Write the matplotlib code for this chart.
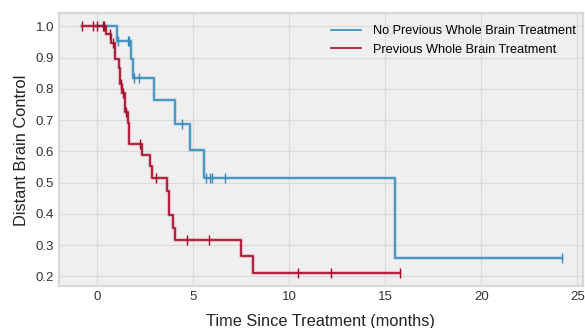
import numpy as np
import matplotlib
matplotlib.use("Agg")
import matplotlib.pyplot as plt

# Kaplan-Meier steps
no_wbt_times = [0.0, 1.02, 1.75, 1.85, 2.96, 4.07, 4.86, 5.58, 15.5, 24.2]
no_wbt_surv = [1.0, 0.952, 0.894, 0.834, 0.764, 0.688, 0.604, 0.516, 0.259, 0.259]
no_wbt_censor = [1.1, 1.6, 1.65, 1.92, 2.2, 4.4, 5.66, 5.87, 6.0, 6.68, 24.2]

wbt_times = [-0.8, 0.45, 0.71, 0.94, 1.14, 1.2, 1.3, 1.45, 1.63, 1.68, 2.37, 2.75,
             2.89, 3.65, 3.76, 3.96, 4.05, 7.52, 8.12, 15.76]
wbt_surv = [1.0, 0.974, 0.945, 0.894, 0.866, 0.815, 0.788, 0.725, 0.69, 0.624, 0.587,
            0.552, 0.513, 0.474, 0.397, 0.355, 0.317, 0.264, 0.212, 0.212]
wbt_censor = [-0.8, -0.19, 0.02, 0.3, 0.38, 0.68, 0.85, 1.25, 1.35, 1.53, 2.23, 3.06,
              4.71, 5.82, 10.47, 12.17, 15.76]

BLUE = "#348ABD"
RED = "#A60628"


def surv_at(times, surv, t):
    idx = np.searchsorted(times, t, side="right") - 1
    idx = np.clip(idx, 0, len(surv) - 1)
    return np.asarray(surv)[idx]


plt.rcParams["font.family"] = ["Liberation Sans", "DejaVu Sans"]

fig = plt.figure(figsize=(5.85, 3.28), dpi=100)
ax = fig.add_axes([0.1, 0.127, 0.897, 0.832])
ax.set_facecolor("#efefef")

for times, surv, cens, col, lab in [
    (no_wbt_times, no_wbt_surv, no_wbt_censor, BLUE, "No Previous Whole Brain Treatment"),
    (wbt_times, wbt_surv, wbt_censor, RED, "Previous Whole Brain Treatment"),
]:
    ax.step(times, surv, where="post", color=col, lw=3, alpha=0.2)
    ax.step(times, surv, where="post", color=col, lw=1.2, label=lab)
    ax.plot(cens, surv_at(times, surv, np.array(cens)), ls="none", marker="|",
            ms=7, mew=1.0, color=col)

ax.set_xlim(-2.0, 25.3)
ax.set_ylim(0.168, 1.041)
ax.set_xticks([0, 5, 10, 15, 20, 25])
ax.set_yticks(np.arange(0.2, 1.01, 0.1))
ax.set_yticklabels([f"{v:.1f}" for v in np.arange(0.2, 1.01, 0.1)])
ax.tick_params(length=0, labelsize=9.5, colors="#333333", pad=3)
ax.grid(True, color="#dadada", lw=0.8)
ax.set_axisbelow(True)
for s in ax.spines.values():
    s.set_color("#d8d8d8")
    s.set_linewidth(1.6)

ax.set_xlabel("Time Since Treatment (months)", fontsize=11.8, color="#222222", labelpad=8)
ax.set_ylabel("Distant Brain Control", fontsize=11.8, color="#222222", labelpad=5)

ax.legend(loc="upper right", bbox_to_anchor=(1.0, 0.985), frameon=False,
          fontsize=9.2, handlelength=2.4, handletextpad=0.9,
          borderaxespad=0.2, labelspacing=0.5)

fig.savefig("out.png", dpi=100)
